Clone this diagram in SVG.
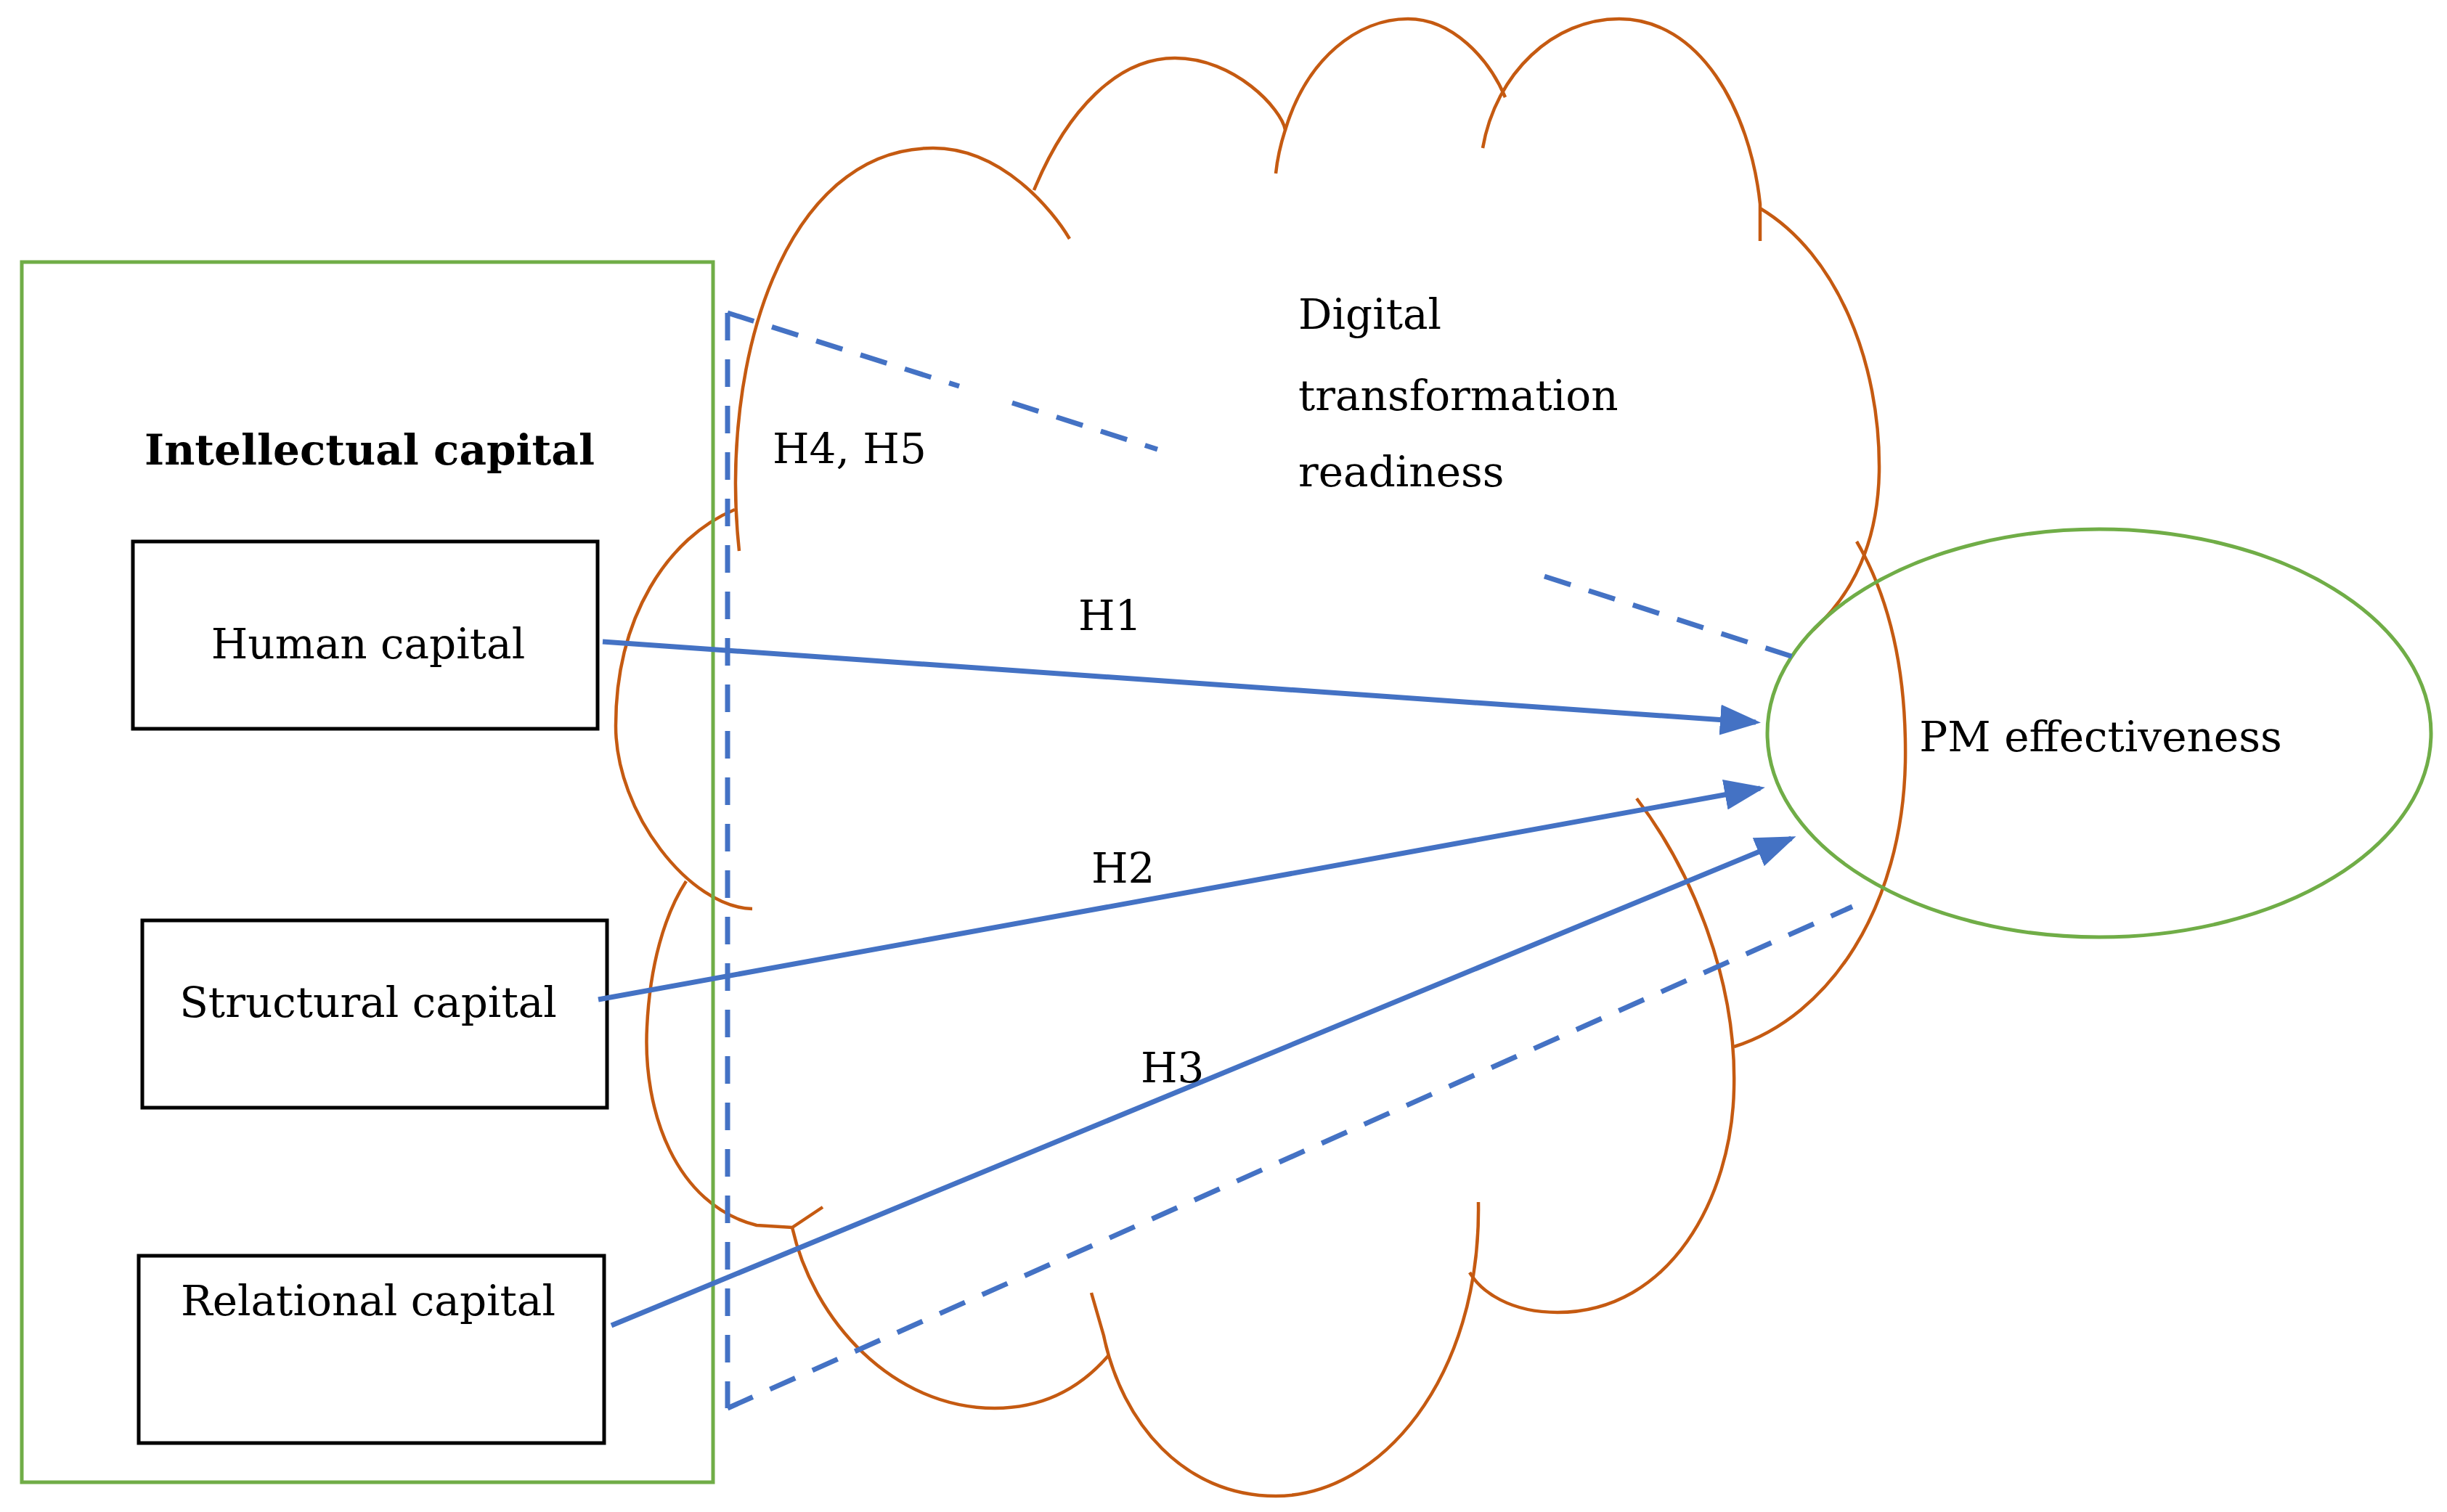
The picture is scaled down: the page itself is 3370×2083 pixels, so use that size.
<svg xmlns="http://www.w3.org/2000/svg" width="3370" height="2083" viewBox="0 0 3370 2083">
<style>
.t{font-family:"DejaVu Serif","Liberation Serif",serif;font-size:58px;fill:#000}
.cloud{fill:none;stroke:#C55A11;stroke-width:4.5}
.box{fill:#fff;stroke:#000;stroke-width:5}
.arr{stroke:#4472C4;stroke-width:7;fill:none}
.dash{stroke:#4472C4;stroke-width:7;fill:none;stroke-dasharray:38,26}
</style>
<defs>
<marker id="ah" markerWidth="8" markerHeight="6" refX="7" refY="3" orient="auto" markerUnits="strokeWidth">
<path d="M0,0 L8,3 L0,6 Z" fill="#4472C4"/>
</marker>
</defs>
<rect width="3370" height="2083" fill="#fff"/>
<g id="cloud">
<path class="cloud" d="M1018,759 C990,500 1080,204 1285,204 C1380,204 1450,290 1473,329"/>
<path class="cloud" d="M1424,262 C1470,150 1540,80 1618,80 C1700,80 1765,150 1770,179 Q1760,210 1757,239"/>
<path class="cloud" d="M1770,179 C1800,80 1870,26 1939,26 C2000,26 2050,80 2073,134"/>
<path class="cloud" d="M2042,204 C2060,100 2140,26 2230,26 C2340,26 2410,150 2424,281 L2424,332"/>
<path class="cloud" d="M2424,287 C2530,350 2590,500 2588,650 C2586,750 2550,820 2497,868"/>
<path class="cloud" d="M2557,746 C2600,820 2626,920 2624,1050 C2620,1250 2520,1400 2388,1442"/>
<path class="cloud" d="M2254,1100 C2330,1200 2392,1350 2388,1500 C2385,1650 2300,1808 2145,1808 C2080,1808 2040,1780 2024,1753"/>
<path class="cloud" d="M2036,1656 C2040,1900 1900,2061 1757,2061 C1630,2061 1545,1960 1520,1840 L1503,1781"/>
<path class="cloud" d="M1527,1867 C1490,1910 1440,1940 1370,1940 C1230,1940 1120,1820 1091,1691"/>
<path class="cloud" d="M1133,1663 L1091,1691 L1042,1688 C930,1660 885,1530 891,1415 C895,1330 915,1260 945,1214"/>
<path class="cloud" d="M1012,702 C920,740 848,850 848,1000 C848,1120 950,1250 1036,1252"/>
</g>
<g id="intellectual-capital">
<rect x="30" y="361" width="952" height="1681" fill="none" stroke="#70AD47" stroke-width="5"/>
<text class="t" x="509" y="640" text-anchor="middle" font-weight="bold">Intellectual capital</text>
</g>
<g id="human-capital">
<rect class="box" x="183" y="746" width="640" height="258"/>
<text class="t" x="507" y="907" text-anchor="middle">Human capital</text>
</g>
<g id="structural-capital">
<rect class="box" x="196" y="1268" width="640" height="258"/>
<text class="t" x="507" y="1401" text-anchor="middle">Structural capital</text>
</g>
<g id="relational-capital">
<rect class="box" x="191" y="1730" width="641" height="258"/>
<text class="t" x="507" y="1812" text-anchor="middle">Relational capital</text>
</g>
<g id="pm-effectiveness">
<ellipse cx="2891" cy="1010" rx="457" ry="281" fill="none" stroke="#70AD47" stroke-width="5"/>
<text class="t" x="2893" y="1035" text-anchor="middle">PM effectiveness</text>
</g>
<g id="digital-transformation">
<text class="t" x="1788" y="453">Digital</text>
<text class="t" x="1788" y="565">transformation</text>
<text class="t" x="1788" y="670">readiness</text>
</g>
<g id="connectors">
<line class="dash" x1="1002" y1="431" x2="1002" y2="1940"/>
<line class="dash" x1="1002" y1="431" x2="1321" y2="532"/>
<line class="dash" x1="1394" y1="555" x2="1594" y2="619"/>
<line class="dash" x1="2127" y1="794" x2="2473" y2="906"/>
<line class="dash" x1="1002" y1="1940" x2="2551" y2="1249"/>
<line class="arr" x1="830" y1="884" x2="2418" y2="995" marker-end="url(#ah)"/>
<line class="arr" x1="824" y1="1377" x2="2424" y2="1086" marker-end="url(#ah)"/>
<line class="arr" x1="842" y1="1826" x2="2467" y2="1155" marker-end="url(#ah)"/>
<text class="t" x="1064" y="638">H4, H5</text>
<text class="t" x="1485" y="868">H1</text>
<text class="t" x="1503" y="1216">H2</text>
<text class="t" x="1571" y="1491">H3</text>
</g>
</svg>
